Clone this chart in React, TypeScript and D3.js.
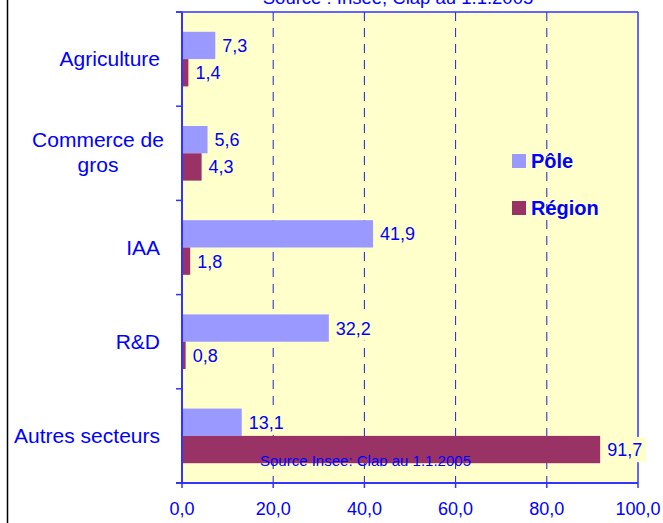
import React from 'react';
import * as d3 from 'd3';

const categories = ['Agriculture', 'Commerce de gros', 'IAA', 'R&D', 'Autres secteurs'];
const categoryLines = [['Agriculture'], ['Commerce de', 'gros'], ['IAA'], ['R&D'], ['Autres secteurs']];
const series = ['Pôle', 'Région'];
const poleValues = [7.3, 5.6, 41.9, 32.2, 13.1];
const regionValues = [1.4, 4.3, 1.8, 0.8, 91.7];
const xTicks = [0, 20, 40, 60, 80, 100];

const width = 663;
const height = 523;
const margin = { top: 12, right: 25, bottom: 40, left: 182 };
const font = '"Liberation Sans", Arial, sans-serif';
const blue = '#0000ff';
const axisBlue = '#3333ff';
const colors: Record<string, string> = { 'Pôle': '#9999ff', 'Région': '#993366' };

const fmt = (v: number) => v.toFixed(1).replace('.', ',');
// rough Arial width, for the label backgrounds
const textWidth = (s: string, size: number) =>
  s.split('').reduce((w, c) => w + (c === ',' || c === '.' ? 0.278 : 0.556), 0) * size;

const App: React.FC = () => {
  const x = d3.scaleLinear().domain([0, 100]).range([margin.left, width - margin.right]);
  const y = d3.scaleBand().domain(categories).range([margin.top, height - margin.bottom]);
  const bw = y.bandwidth();
  const inner = d3.scaleBand().domain(series).range([bw * 0.21, bw * 0.79]);
  const [x0, x1] = x.range();
  const [y0, y1] = y.range();

  const bars = categories.flatMap((c, i) => [
    { cat: c, s: 'Pôle', v: poleValues[i] },
    { cat: c, s: 'Région', v: regionValues[i] },
  ]);
  const boundaries = categories.map(c => y(c)!).concat([y1]);
  const lastRegion = bars[bars.length - 1];
  const srcY = y(lastRegion.cat)! + inner(lastRegion.s)! + inner.bandwidth();

  return (
    <svg width={width} height={height} style={{ position: 'absolute', left: 0, top: 0, background: '#fff' }}
      fontFamily={font}>
      <defs>
        <clipPath id="srcClip">
          <rect x={0} y={0} width={width} height={srcY + 3} />
        </clipPath>
      </defs>
      <line x1={7.5} x2={7.5} y1={0} y2={height} stroke="#000" strokeWidth={1.5} />
      <text x={398} y={3.5} textAnchor="middle" fontSize={18.5} fill={blue}>Source : Insee, Clap au 1.1.2005</text>

      <rect x={x0} y={y0} width={x1 - x0} height={y1 - y0} fill="#ffffcc" />
      {xTicks.slice(1, -1).map(t => (
        <line key={t} x1={x(t)} x2={x(t)} y1={y0} y2={y1} stroke="#2020d0" strokeWidth={1} strokeDasharray="9,7" />
      ))}
      <line x1={x0 - 6} x2={x1} y1={y0} y2={y0} stroke={axisBlue} strokeWidth={1.5} />
      <line x1={x1} x2={x1} y1={y0} y2={y1} stroke={axisBlue} strokeWidth={1.5} />

      {bars.map((b, i) => (
        <rect key={i} x={x(0)} y={y(b.cat)! + inner(b.s)!} width={x(b.v) - x(0)} height={inner.bandwidth()} fill={colors[b.s]} />
      ))}

      {/* axes */}
      <line x1={x0} x2={x0} y1={y0} y2={y1} stroke={axisBlue} strokeWidth={2} />
      {boundaries.map((b, i) => (
        <line key={i} x1={x0 - 6} x2={x0} y1={b} y2={b} stroke={axisBlue} strokeWidth={1.5} />
      ))}
      <line x1={x0 - 6} x2={x1} y1={y1} y2={y1} stroke={axisBlue} strokeWidth={2} />
      {xTicks.map(t => (
        <g key={t}>
          <line x1={x(t)} x2={x(t)} y1={y1} y2={y1 + 5} stroke={axisBlue} strokeWidth={1.5} />
          <text x={x(t)} y={y1 + 32} textAnchor="middle" fontSize={18} fill={blue}>{fmt(t)}</text>
        </g>
      ))}
      {categoryLines.map((lines, i) => {
        const cy = y(categories[i])! + bw / 2;
        if (lines.length === 1) {
          return <text key={i} x={160} y={cy + 7} textAnchor="end" fontSize={21} fill={blue}>{lines[0]}</text>;
        }
        return (
          <text key={i} x={98} y={cy - 6} textAnchor="middle" fontSize={21} fill={blue}>
            {lines.map((l, j) => <tspan key={j} x={98} dy={j === 0 ? 0 : 25}>{l}</tspan>)}
          </text>
        );
      })}

      {/* value labels */}
      {bars.map((b, i) => {
        const by = y(b.cat)! + inner(b.s)!;
        const label = fmt(b.v);
        return (
          <g key={i}>
            <rect x={x(b.v) + 1} y={by + 1} width={textWidth(label, 18) + 10} height={inner.bandwidth() - 2} fill="#ffffcc" />
            <text x={x(b.v) + 7} y={by + inner.bandwidth() / 2 + 6.5} fontSize={18} fill={blue}>{label}</text>
          </g>
        );
      })}

      <text x={260} y={srcY + 2.5} fontSize={15} fill={blue} clipPath="url(#srcClip)">Source Insee: Clap au 1.1.2005</text>

      {/* legend */}
      {series.map((s, i) => (
        <g key={s} transform={`translate(512,${154 + i * 47})`}>
          <rect x={0} y={0} width={14} height={14} fill={colors[s]} />
          <text x={19} y={14} fontSize={20} fontWeight="bold" fill={blue}>{s}</text>
        </g>
      ))}
    </svg>
  );
};

export default App;
